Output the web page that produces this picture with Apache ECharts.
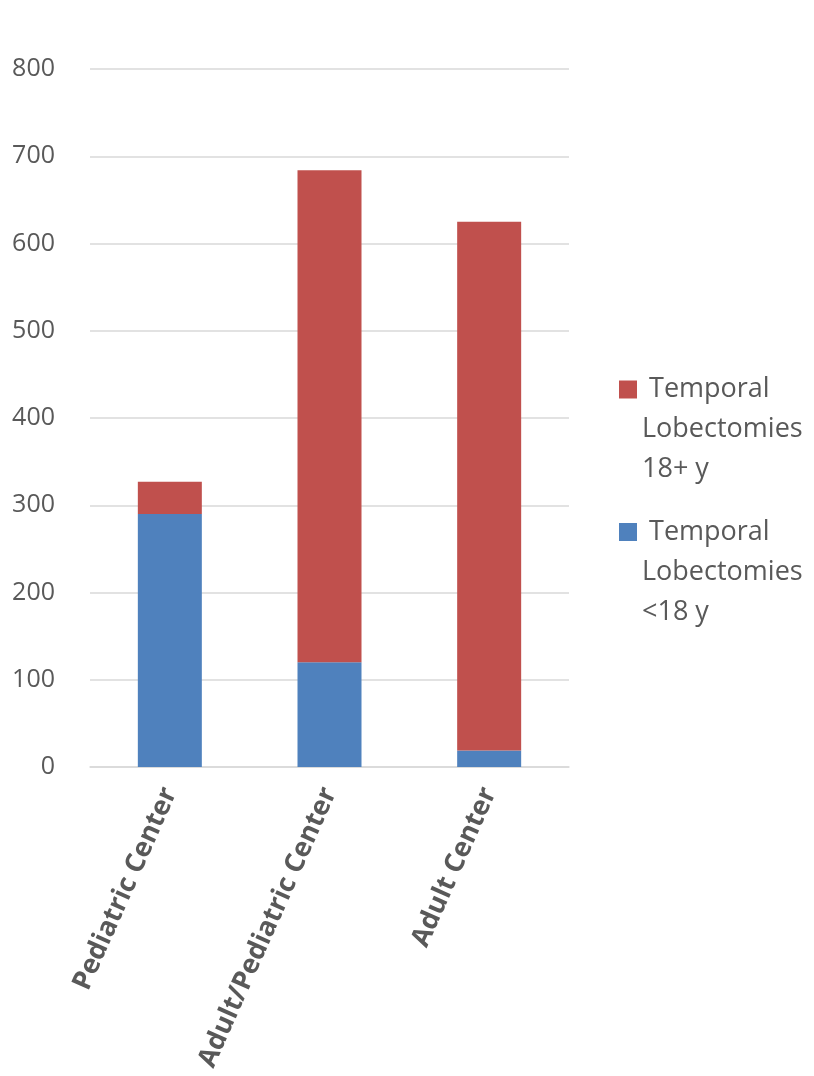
<!DOCTYPE html>
<html>
<head>
<meta charset="utf-8">
<script src="https://cdn.jsdelivr.net/npm/echarts@6/dist/echarts.min.js"></script>
<style>html,body{margin:0;padding:0;background:#fff;}#c{width:814px;height:1076px;}</style>
</head>
<body>
<div id="c"></div>
<script>
const categories = ['Pediatric Center', 'Adult/Pediatric Center', 'Adult Center'];
const under18 = [290, 120, 19];
const adult18 = [37, 564, 606];
const seriesNames = ['Temporal Lobectomies <18 y', 'Temporal Lobectomies 18+ y'];
const legendLines = {
  'Temporal Lobectomies 18+ y': ' Temporal\nLobectomies\n18+ y',
  'Temporal Lobectomies <18 y': ' Temporal\nLobectomies\n<18 y'
};
const yTicks = [0, 100, 200, 300, 400, 500, 600, 700, 800];

const chart = echarts.init(document.getElementById('c'), null, {renderer: 'canvas'});
const font = '"Open Sans", "Noto Sans", sans-serif';
function legendFor(name, top) {
  return {
    data: [name],
    orient: 'vertical',
    left: 619,
    top: top,
    padding: 0,
    itemWidth: 18,
    itemHeight: 18,
    itemGap: 8,
    icon: 'rect',
    selectedMode: false,
    formatter: function (n) {
      // two empty lines above so the icon sits beside the first line
      return '\n\n' + legendLines[n];
    },
    textStyle: {
      fontFamily: font,
      fontSize: 27,
      color: '#595959',
      lineHeight: 40
    }
  };
}
chart.setOption({
  animation: false,
  backgroundColor: '#ffffff',
  textStyle: {fontFamily: font},
  grid: {left: 90, right: 245, top: 69, bottom: 309, containLabel: false},
  legend: [legendFor(seriesNames[1], 289.5), legendFor(seriesNames[0], 432)],
  xAxis: {
    type: 'category',
    data: categories,
    axisLine: {show: true, lineStyle: {color: '#D9D9D9', width: 1.5}},
    axisTick: {show: false},
    axisLabel: {
      interval: 0,
      rotate: 66,
      margin: 22,
      fontFamily: font,
      fontSize: 27,
      fontWeight: 'bold',
      color: '#595959'
    }
  },
  yAxis: {
    type: 'value',
    min: yTicks[0],
    max: yTicks[yTicks.length - 1],
    interval: 100,
    axisLine: {show: false},
    axisTick: {show: false},
    splitLine: {lineStyle: {color: '#D9D9D9', width: 1.5}},
    axisLabel: {
      margin: 35,
      fontFamily: font,
      fontSize: 25,
      color: '#595959'
    }
  },
  series: [
    {
      name: seriesNames[0],
      type: 'bar',
      stack: 'total',
      data: under18,
      barWidth: 64,
      itemStyle: {color: '#4F81BD'}
    },
    {
      name: seriesNames[1],
      type: 'bar',
      stack: 'total',
      data: adult18,
      barWidth: 64,
      itemStyle: {color: '#C0504D'}
    }
  ]
});
</script>
</body>
</html>
